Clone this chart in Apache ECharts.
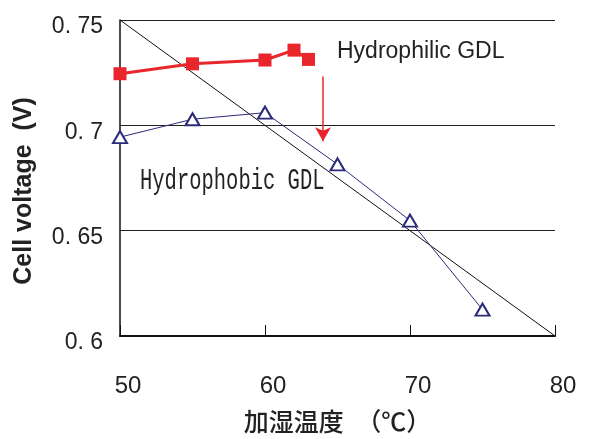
<!DOCTYPE html>
<html>
<head>
<meta charset="utf-8">
<script src="https://cdn.jsdelivr.net/npm/echarts@6/dist/echarts.min.js"></script>
<style>
html,body{margin:0;padding:0;background:#fff;}
#chart{width:590px;height:439px;}
</style>
</head>
<body>
<div id="chart"></div>
<script>
// Data
const xTicks = [50, 60, 70, 80];
const yTicks = [0.6, 0.65, 0.7, 0.75];
const hydrophilicX = [50, 55, 60, 62, 63];
const hydrophilicY = [0.7245, 0.7292, 0.731, 0.7357, 0.7313];
const hydrophobicX = [50, 55, 60, 65, 70, 75];
const hydrophobicY = [0.6944, 0.7029, 0.706, 0.6815, 0.6548, 0.6125];
const refLineX = [50, 80];
const refLineY = [0.75, 0.6];
const arrowX = 64;
const arrowY = [0.7232, 0.6925];
const labelPhilic = 'Hydrophilic GDL';
const labelPhobic = 'Hydrophobic GDL';
const xName = '加湿温度　（℃）';
const yName = 'Cell voltage  (V)';

const zip = (xs, ys) => xs.map((x, i) => [x, ys[i]]);

const chart = echarts.init(document.getElementById('chart'), null, {renderer: 'canvas'});
const option = {
  backgroundColor: '#fff',
  animation: false,
  grid: {left: 120, right: 35, top: 20, bottom: 96, containLabel: false},
  xAxis: {
    type: 'value', min: xTicks[0], max: xTicks[xTicks.length - 1], interval: 10,
    name: xName, nameLocation: 'middle', nameGap: 73,
    nameTextStyle: {fontFamily: 'Noto Sans CJK JP', fontSize: 25, fontWeight: 500, color: '#222'},
    axisLine: {show: true, lineStyle: {color: '#111', width: 2}},
    axisTick: {show: true, inside: true, length: 11, lineStyle: {color: '#111', width: 1}},
    axisLabel: {fontFamily: 'Liberation Sans', fontSize: 24, color: '#222', margin: 38, padding: [0, 0, 0, 16]},
    splitLine: {show: false}
  },
  yAxis: {
    type: 'value', min: yTicks[0], max: yTicks[yTicks.length - 1], interval: 0.05,
    name: yName, nameLocation: 'middle', nameGap: 83, nameRotate: 90,
    nameTextStyle: {fontFamily: 'Liberation Sans', fontWeight: 'bold', fontSize: 25, color: '#222', padding: [0, 26, 0, 0]},
    axisLine: {show: true, lineStyle: {color: '#111', width: 1.5}},
    axisTick: {show: false},
    axisLabel: {
      fontFamily: 'Liberation Sans', fontSize: 23, color: '#222', margin: 17,
      verticalAlign: 'top', lineHeight: 14,
      formatter: v => String(+v.toFixed(2)).replace('.', '. ')
    },
    splitLine: {show: true, lineStyle: {color: '#222', width: 1}}
  },
  series: [
    {
      type: 'line', data: zip(refLineX, refLineY), symbol: 'none',
      lineStyle: {color: '#111', width: 1}, z: 2, silent: true
    },
    {
      type: 'line', data: zip(hydrophobicX, hydrophobicY),
      symbol: 'emptyTriangle', symbolSize: [14, 12],
      lineStyle: {color: '#2b2b7a', width: 1},
      itemStyle: {color: '#2b2b7a', borderWidth: 1},
      z: 3,
      markLine: {
        silent: true, symbol: ['none', 'arrow'], symbolSize: [12, 14],
        lineStyle: {color: '#e8262b', width: 1.5, type: 'solid'},
        label: {show: false},
        data: [[{coord: [arrowX, arrowY[0]]}, {coord: [arrowX, arrowY[1]]}]]
      }
    },
    {
      type: 'line', data: zip(hydrophilicX, hydrophilicY),
      symbol: 'rect', symbolSize: 13,
      lineStyle: {color: '#e8262b', width: 3},
      itemStyle: {color: '#e8262b'},
      z: 4
    }
  ],
  graphic: [
    {
      type: 'text', x: 337, y: 52,
      style: {text: labelPhilic, fontFamily: 'Liberation Sans', fontSize: 23, fill: '#222',
        textAlign: 'left', textVerticalAlign: 'middle'}
    },
    {
      type: 'text', x: 140, y: 181, scaleY: 1.4,
      style: {text: labelPhobic, fontFamily: 'Liberation Mono', fontSize: 20.5, fill: '#222',
        textAlign: 'left', textVerticalAlign: 'middle'}
    }
  ]
};
chart.setOption(option);
</script>
</body>
</html>
